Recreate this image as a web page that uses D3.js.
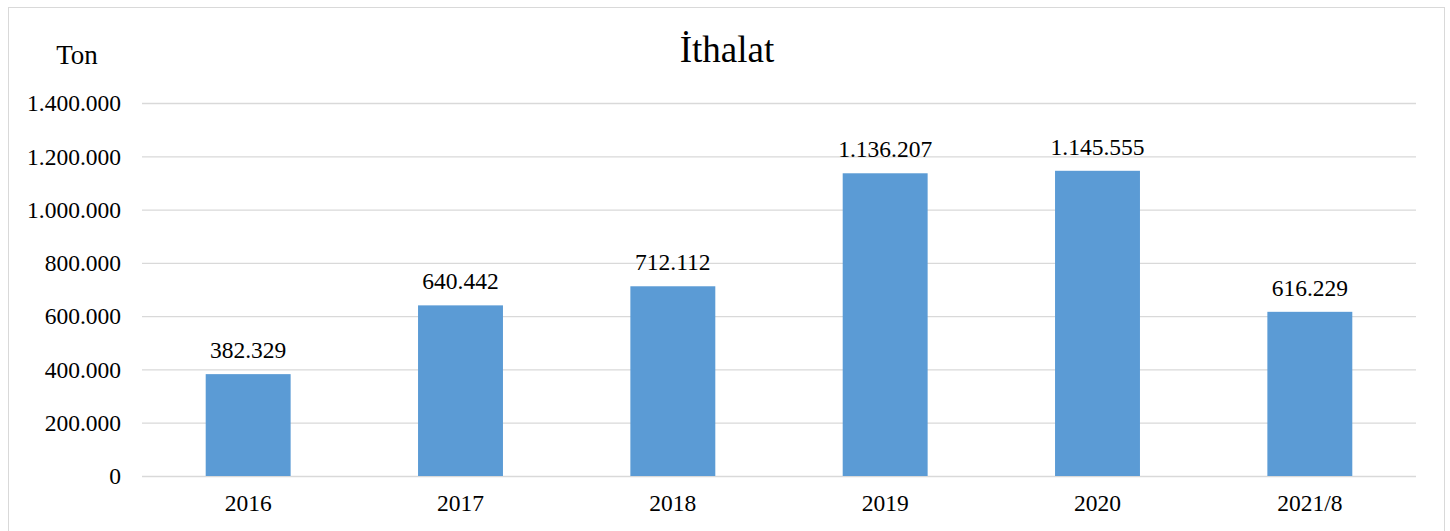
<!DOCTYPE html>
<html><head><meta charset="utf-8">
<script src="https://cdn.jsdelivr.net/npm/d3@7/dist/d3.min.js"></script>
<style>body{margin:0;background:#fff}svg{display:block}text{font-family:"Liberation Serif","Times New Roman",serif;fill:#000}</style>
</head><body><svg id="c" width="1450" height="531"></svg>
<script>
const categories = ["2016","2017","2018","2019","2020","2021/8"];
const values = [382329, 640442, 712112, 1136207, 1145555, 616229];
const yTicks = [0,200000,400000,600000,800000,1000000,1200000,1400000];
const title = "İthalat";
const unitLabel = "Ton";

const fmt = v => d3.format(",")(v).replace(/,/g, ".");
const svg = d3.select("#c");
const m = {left:142, right:1416, top:103, bottom:476};
const x = d3.scaleBand().domain(categories).range([m.left, m.right]).paddingInner(0.6).paddingOuter(0.3);
const y = d3.scaleLinear().domain([0,1400000]).range([m.bottom, m.top]);

svg.append("rect").attr("x",8.5).attr("y",7.5).attr("width",1436).attr("height",530).attr("fill","none").attr("stroke","#d9d9d9");

const ga = svg.append("g").attr("transform",`translate(${m.left},0)`)
  .call(d3.axisLeft(y).tickValues(yTicks).tickSize(-(m.right-m.left)).tickPadding(21).tickFormat(fmt));
ga.select(".domain").remove();
ga.selectAll(".tick line").attr("stroke","#d9d9d9").attr("stroke-width",1.3);
ga.selectAll(".tick text").attr("font-size",23.5).attr("font-family","Liberation Serif").attr("fill","#000").attr("dy","0.33em");

const gx = svg.append("g").attr("transform",`translate(0,${m.bottom})`)
  .call(d3.axisBottom(x).tickSize(0).tickPadding(18));
gx.select(".domain").remove();
gx.selectAll(".tick text").attr("font-size",23.5).attr("font-family","Liberation Serif").attr("fill","#000");

svg.selectAll("rect.bar").data(values).join("rect").attr("class","bar")
  .attr("x",(d,i)=>x(categories[i])).attr("width",x.bandwidth())
  .attr("y",d=>y(d)).attr("height",d=>y(0)-y(d)).attr("fill","#5b9bd5");

svg.selectAll("text.val").data(values).join("text").attr("class","val")
  .attr("x",(d,i)=>x(categories[i])+x.bandwidth()/2).attr("y",d=>y(d)-16)
  .attr("text-anchor","middle").attr("font-size",23.5).text(d=>fmt(d));

svg.append("text").attr("x",77).attr("y",64).attr("text-anchor","middle").attr("font-size",27).text(unitLabel);
svg.append("text").attr("x",727).attr("y",62).attr("text-anchor","middle").attr("font-size",37).text(title);
</script></body></html>
